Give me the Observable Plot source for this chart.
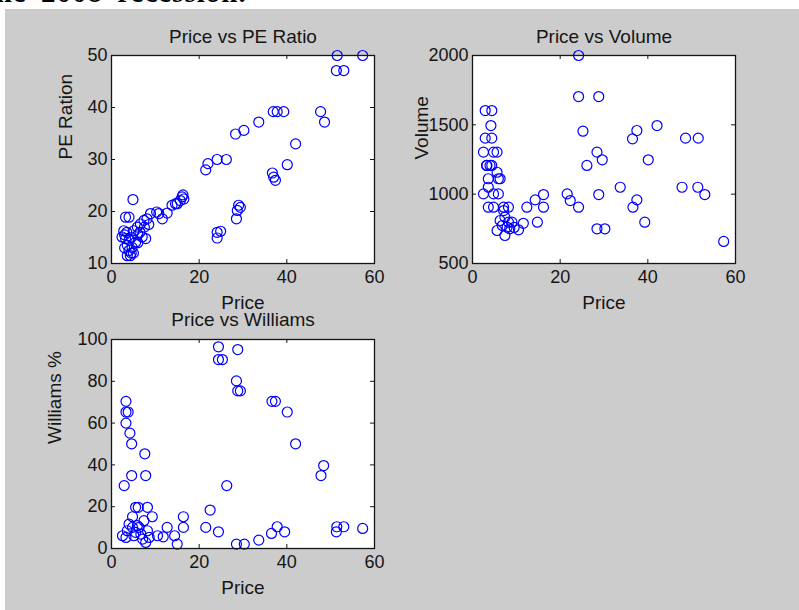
<!DOCTYPE html>
<html><head><meta charset="utf-8">
<script src="https://cdn.jsdelivr.net/npm/d3@7"></script>
<script src="https://cdn.jsdelivr.net/npm/@observablehq/plot@0.6"></script>
<style>
html,body{margin:0;padding:0;background:#fff;}
#page{position:relative;width:799px;height:610px;overflow:hidden;}
#bg{position:absolute;left:5px;top:9px;right:0;bottom:0;background:#cccccc;}
#note{position:absolute;left:-15px;top:-22px;font:bold 29px/28px "Liberation Serif","Times New Roman",serif;letter-spacing:1px;word-spacing:6px;color:#000;white-space:nowrap;}
#page svg{position:absolute;left:0;top:0;}
</style></head><body><div id="page"><div id="bg"></div><div id="note">the 2008 recession.</div></div>
<script>
// ---- data ----
const xTicks = [0, 20, 40, 60];
const peTicks = [10, 20, 30, 40, 50];
const volTicks = [500, 1000, 1500, 2000];
const wilTicks = [0, 20, 40, 60, 80, 100];

const pricePE = [51.5,57.3,51.3,53,47.7,48.6,36.9,37.8,39.3,33.6,28.3,30.2,42,40.1,36.7,37,37.4,21.5,22,24.1,26.2,29,29.4,28.7,28.5,24.1,24.9,24.1,16.3,16.1,16.5,14.6,13.8,12.7,11.6,10.3,4.9,
  2.8,2.4,3.2,3.6,4,3.6,4.3,4.7,5.1,5.5,5.9,6.6,7.4,8.1,7,7.8,3.2,4,3.5,4.5,5,4.5,6,6.5,3,8.5,7.5,6,4,3,10.8,8.9,15,15.7];
const pe = [50,50,47.1,47.1,39.2,37.2,39.2,39.2,39.2,37.2,34.9,35.6,33,29,27.4,26.6,26,28,29.2,30,30,21.2,20.8,20.2,18.6,16,16.2,14.9,23.2,22.8,22.4,21.5,21.2,19.7,18.6,19.9,22.3,
  16.3,15.1,14.8,13.5,12.5,11.5,11.5,13.1,16.3,14.1,17,17.6,18.3,18.6,15.1,14.8,18.9,18.9,16,15,12,12,15.5,16,13,17.5,17,14,14.5,15.5,19.6,19.6,21.5,22.1];

const priceVol = [24.2,24.2,28.8,42.1,25.2,36.5,37.5,48.6,51.5,28.4,29.6,40.1,26.1,33.7,47.8,51.4,53,21.6,22.3,24.2,28.8,37.5,36.6,39.3,28.4,30.2,57.3,16.2,14.3,16.2,12.4,14.8,11.6,10.5,
  2.9,4.4,4.2,2.9,4.4,2.5,4.8,5.6,3.3,4.4,5.6,3.6,6.3,2.5,4.8,5.9,3.6,3.6,4.8,7.1,8.2,6.3,7.4,6.8,7.9,5.6,7.4,8.5,8.2,7.1,9,3.2,4,5.9,9.5];
const volume = [2000,1704,1704,1495,1454,1399,1459,1404,1404,1303,1248,1248,1207,1050,1050,1050,997,1002,954,906,997,959,906,798,750,750,659,997,959,906,906,798,790,743,
  1603,1603,1495,1404,1404,1303,1303,1303,1207,1207,1158,1111,1111,1002,1002,1002,1050,906,906,906,906,810,834,774,762,738,702,750,798,882,798,1207,1207,1111,760];

const priceWil = [24.4,28.8,24.4,25.3,28.5,28.8,29.4,36.6,37.4,40.1,42,48.4,47.8,26.3,22.5,21.5,24.4,28.5,30.3,33.6,36.5,37.8,39.5,51.3,51.4,53,57.3,16.4,16.4,15,14.4,12.7,11.8,10.5,
  3.3,3.3,3.8,3.3,4.2,4.6,7.6,4.6,7.8,2.9,5.5,6.1,8.2,4.8,9.3,2.5,3.3,3.6,4,4.8,5.5,6.3,6.7,7.1,7.8,8.2,8.6,7.4,5.9,5.1];
const williams = [96.5,95.2,90.4,90.4,80.2,75.4,75.4,70.4,70.4,65.3,50.1,39.7,34.9,30.1,18.4,10.1,8,2.1,2.1,4,7.2,10.4,8,8,10.4,10.4,9.6,15.2,10.1,2.1,6.1,10.1,5.6,6.1,
  70.4,65.3,65.3,60,55.2,50.1,45.3,34.9,34.9,30.1,19.7,19.7,19.7,15.2,15.2,6.1,5.3,8.5,11.7,10.1,7.7,10.1,6.9,4.5,2.9,8.5,5.3,13.3,10.9,6.1];

// ---- drawing ----
const FONT = '"Liberation Sans", Arial, Helvetica, sans-serif';
function panel({xs, ys, yDomain, yTicks, frame, title, ylabel, ylabelDx, titleDy}) {
  const [l, r, t, b] = frame;
  const W = r - l, H = b - t;
  const data = xs.map((x, i) => ({x, y: ys[i]}));
  return Plot.plot({
    width: 799, height: 610,
    marginLeft: l, marginRight: 799 - r, marginTop: t, marginBottom: 610 - b,
    style: {background: "transparent", fontFamily: FONT, fontSize: "18px", color: "#151515", overflow: "visible"},
    x: {domain: [0, 60]},
    y: {domain: yDomain},
    marks: [
      Plot.frame({fill: "white"}),
      Plot.dot(data, {x: "x", y: "y", r: 5, stroke: "#0000ff", strokeWidth: 1.2, fill: "none"}),
      Plot.frame({stroke: "#151515", strokeWidth: 1.3}),
      Plot.tickX(xTicks, {x: d => d, insetTop: H - 4, stroke: "#151515"}),
      Plot.tickX(xTicks, {x: d => d, insetBottom: H - 4, stroke: "#151515"}),
      Plot.tickY(yTicks, {y: d => d, insetRight: W - 4, stroke: "#151515"}),
      Plot.tickY(yTicks, {y: d => d, insetLeft: W - 4, stroke: "#151515"}),
      Plot.axisX(xTicks, {tickSize: 0, tickPadding: 7, label: null, fontSize: 18}),
      Plot.axisY(yTicks, {tickSize: 0, tickPadding: 4, label: null, fontSize: 18, tickFormat: d3.format("d")}),
      Plot.text([title], {frameAnchor: "top", dy: -titleDy, lineAnchor: "bottom", fontSize: 19, text: d => d}),
      Plot.text(["Price"], {frameAnchor: "bottom", dy: 45, lineAnchor: "bottom", fontSize: 19, text: d => d}),
      Plot.text([ylabel], {frameAnchor: "left", dx: -ylabelDx, rotate: -90, lineAnchor: "bottom", fontSize: 19, text: d => d})
    ]
  });
}
const page = document.getElementById("page");
page.append(panel({xs: pricePE, ys: pe, yDomain: [10, 50], yTicks: peTicks, frame: [111, 374, 55, 263], title: "Price vs PE Ratio", ylabel: "PE Ration", ylabelDx: 40, titleDy: 13}));
page.append(panel({xs: priceVol, ys: volume, yDomain: [500, 2000], yTicks: volTicks, frame: [472, 735, 55, 263], title: "Price vs Volume", ylabel: "Volume", ylabelDx: 45, titleDy: 13}));
page.append(panel({xs: priceWil, ys: williams, yDomain: [0, 100], yTicks: wilTicks, frame: [111, 374, 339, 548], title: "Price vs Williams", ylabel: "Williams %", ylabelDx: 51, titleDy: 14}));
</script>
</body></html>
